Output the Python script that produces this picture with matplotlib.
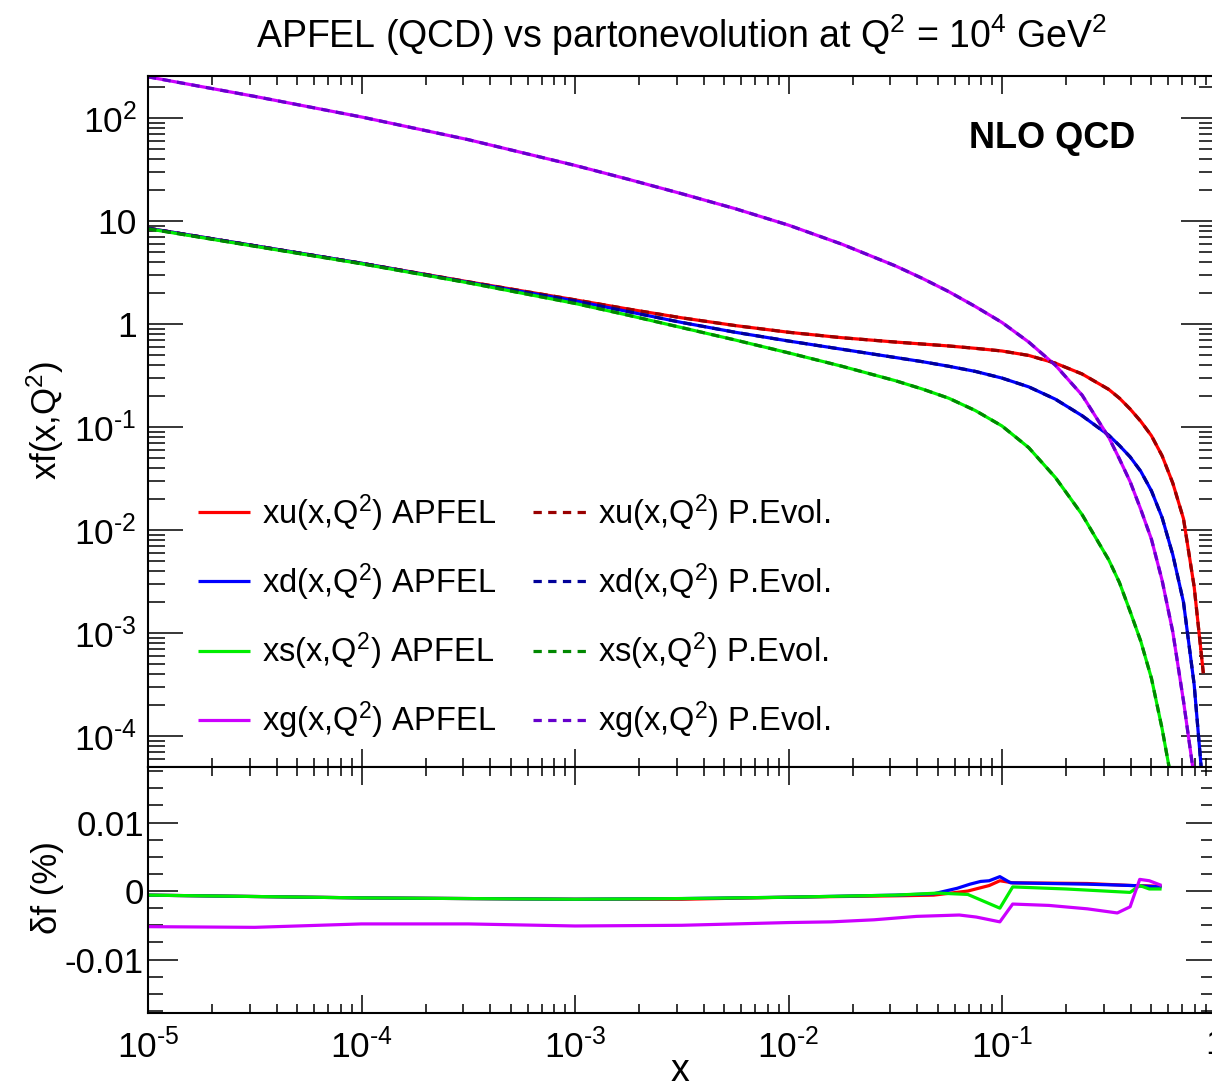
import numpy as np
import matplotlib
matplotlib.use('Agg')
import matplotlib.pyplot as plt
from matplotlib.ticker import FixedLocator, FixedFormatter, LogLocator, MultipleLocator, NullFormatter

plt.rcParams['font.family'] = ['Liberation Sans', 'DejaVu Sans']
plt.rcParams['mathtext.fontset'] = 'custom'
plt.rcParams['mathtext.rm'] = 'Liberation Sans'
plt.rcParams['mathtext.it'] = 'Liberation Sans:italic'
plt.rcParams['mathtext.bf'] = 'Liberation Sans:bold'

# ---------------- data ----------------
# common log10(x) grid for the top panel
log10_x = [-5, -4.5, -4, -3.5, -3, -2.75, -2.5, -2.25, -2, -1.75, -1.5, -1.375, -1.25, -1.125,
           -1, -0.875, -0.75, -0.625, -0.5, -0.45, -0.4, -0.35, -0.3, -0.25, -0.2, -0.15, -0.1, -0.057]
# log10 of xf(x,Q^2)
log10_xu = [0.93, 0.76, 0.59, 0.41, 0.235, 0.145, 0.06, -0.015, -0.08, -0.133, -0.175, -0.194, -0.213, -0.236,
            -0.262, -0.305, -0.38, -0.485, -0.635, -0.72, -0.825, -0.945, -1.085, -1.28, -1.545, -1.89, -2.55, -3.39]
log10_xd = [0.93, 0.76, 0.59, 0.405, 0.225, 0.12, 0.015, -0.08, -0.165, -0.245, -0.325, -0.365, -0.41, -0.46,
            -0.525, -0.61, -0.73, -0.89, -1.08, -1.18, -1.29, -1.43, -1.62, -1.88, -2.24, -2.70, -3.50, -4.55]
log10_xs = [0.925, 0.755, 0.585, 0.40, 0.20, 0.085, -0.035, -0.155, -0.28, -0.41, -0.55, -0.63, -0.72, -0.84,
            -0.99, -1.20, -1.49, -1.85, -2.29, -2.51, -2.79, -3.08, -3.44, -3.93, -4.50, -5.2, -6.0, -6.8]
log10_xg = [2.40, 2.21, 2.01, 1.79, 1.54, 1.405, 1.265, 1.12, 0.96, 0.775, 0.565, 0.445, 0.315, 0.17,
            0.015, -0.175, -0.40, -0.69, -1.10, -1.31, -1.53, -1.80, -2.09, -2.49, -2.99, -3.66, -4.40, -5.2]

# relative differences delta f (%)
dx_u = [-5, -4, -3, -2.5, -2, -1.5, -1.32, -1.16, -1.06, -1.01, -0.95, -0.6, -0.39, -0.26]
df_u = [-0.0006, -0.0010, -0.0012, -0.0012, -0.0009, -0.0007, -0.0006, 0.0000, 0.0008, 0.0015, 0.0012, 0.0011, 0.0008, 0.0007]
dx_d = [-5, -4, -3, -2.5, -2, -1.5, -1.32, -1.21, -1.15, -1.10, -1.06, -1.01, -0.96, -0.6, -0.39, -0.26]
df_d = [-0.0006, -0.0010, -0.0012, -0.0011, -0.0009, -0.0006, -0.0004, 0.0004, 0.0010, 0.0014, 0.0015, 0.0021, 0.0012, 0.0010, 0.0008, 0.0006]
dx_s = [-5, -4, -3, -2.5, -2, -1.5, -1.3, -1.16, -1.01, -0.95, -0.7, -0.4, -0.355, -0.31, -0.26]
df_s = [-0.0006, -0.0010, -0.0012, -0.0011, -0.0009, -0.0006, -0.0003, -0.0005, -0.0025, 0.0006, 0.0003, -0.0002, 0.0008, 0.0003, 0.0003]
dx_g = [-5, -4.5, -4, -3.5, -3, -2.5, -2, -1.8, -1.6, -1.4, -1.2, -1.12, -1.01, -0.95, -0.78, -0.6, -0.46, -0.40, -0.355, -0.31, -0.26]
df_g = [-0.0052, -0.0053, -0.0048, -0.0048, -0.0051, -0.0050, -0.0046, -0.0045, -0.0042, -0.0037, -0.0035, -0.0038, -0.0045, -0.0019, -0.0021, -0.0026, -0.0032, -0.0023, 0.0017, 0.0015, 0.0009]

labels_apfel = [r"xu(x,Q$^2$) APFEL", r"xd(x,Q$^2$) APFEL", r"xs(x,Q$^2$) APFEL", r"xg(x,Q$^2$) APFEL"]
labels_pevol = [r"xu(x,Q$^2$) P.Evol.", r"xd(x,Q$^2$) P.Evol.", r"xs(x,Q$^2$) P.Evol.", r"xg(x,Q$^2$) P.Evol."]
ytick_vals = [1e-4, 1e-3, 1e-2, 1e-1, 1, 10, 100]
ytick_labels = [r"10$^{\text{-4}}$", r"10$^{\text{-3}}$", r"10$^{\text{-2}}$", r"10$^{\text{-1}}$", "1", "10", r"10$^{2}$"]
xtick_vals = [1e-5, 1e-4, 1e-3, 1e-2, 1e-1, 1]
xtick_labels = [r"10$^{\text{-5}}$", r"10$^{\text{-4}}$", r"10$^{\text{-3}}$", r"10$^{\text{-2}}$", r"10$^{\text{-1}}$", "1"]
dtick_vals = [-0.01, 0, 0.01]
dtick_labels = ["-0.01", "0", "0.01"]

# ---------------- styles ----------------
solid_colors = ['#ff0000', '#0000ff', '#00ee00', '#cc00ff']
dash_colors = ['#990000', '#000099', '#008800', '#6600cc']

W, H = 1212, 1089
fig = plt.figure(figsize=(W / 100, H / 100), dpi=100)
left = 148 / W
width = (1215.5 - 148) / W
ax1 = fig.add_axes([left, (H - 767) / H, width, (767 - 76) / H])
ax2 = fig.add_axes([left, (H - 1013) / H, width, (1013 - 767) / H], sharex=ax1)

xs = 10 ** np.array(log10_x)
tops = [log10_xu, log10_xd, log10_xs, log10_xg]
handles_a, handles_p = [], []
for vals, c, lab in zip(tops, solid_colors, labels_apfel):
    h, = ax1.plot(xs, 10 ** np.array(vals), color=c, lw=2.3, label=lab, solid_capstyle='butt')
    handles_a.append(h)
for vals, c, lab in zip(tops, dash_colors, labels_pevol):
    h, = ax1.plot(xs, 10 ** np.array(vals), color=c, lw=2.3, ls=(0, (2.6, 2.0)), label=lab)
    handles_p.append(h)

ax1.set_xscale('log')
ax1.set_yscale('log')
ax1.set_xlim(1e-5, 1)
ax1.set_ylim(10 ** -4.301, 10 ** 2.408)
ax1.yaxis.set_major_locator(FixedLocator(ytick_vals))
ax1.yaxis.set_major_formatter(FixedFormatter(ytick_labels))
ax1.yaxis.set_minor_locator(LogLocator(base=10, subs=np.arange(2, 10), numticks=50))
ax1.yaxis.set_minor_formatter(NullFormatter())

for dx, df, c in zip([dx_u, dx_d, dx_s, dx_g], [df_u, df_d, df_s, df_g], solid_colors):
    ax2.plot(10 ** np.array(dx), df, color=c, lw=2.3)
ax2.set_ylim(-0.0178, 0.0181)
ax2.yaxis.set_major_locator(FixedLocator(dtick_vals))
ax2.yaxis.set_major_formatter(FixedFormatter(dtick_labels))
ax2.yaxis.set_minor_locator(MultipleLocator(0.0025))
ax2.xaxis.set_major_locator(FixedLocator(xtick_vals))
ax2.xaxis.set_major_formatter(FixedFormatter(xtick_labels))
ax2.xaxis.set_minor_locator(LogLocator(base=10, subs=np.arange(2, 10), numticks=50))
ax2.xaxis.set_minor_formatter(NullFormatter())

for ax in (ax1, ax2):
    for s in ax.spines.values():
        s.set_linewidth(1.5)
    ax.tick_params(which='both', direction='in', top=True, right=True, width=1.1, colors='black')
    ax.tick_params(axis='x', which='major', length=13)
    ax.tick_params(axis='x', which='minor', length=6.5)
ax1.tick_params(axis='y', which='major', length=25, labelsize=25.5, pad=8)
ax1.tick_params(axis='y', which='minor', length=12)
ax1.tick_params(axis='x', labelbottom=False)
ax2.tick_params(axis='y', which='major', length=21.5, labelsize=25, pad=3)
ax2.tick_params(axis='y', which='minor', length=10.8)
ax2.tick_params(axis='x', which='major', labelsize=25.5, pad=11)

leg = ax1.legend(handles_a + handles_p, labels_apfel + labels_pevol, ncol=2, frameon=False,
                 loc='upper left', bbox_to_anchor=((198 - 148) / (1215.5 - 148), (767 - 492) / (767 - 76)),
                 fontsize=23.5, handlelength=1.6, handletextpad=0.37, columnspacing=1.13,
                 labelspacing=0.85, borderaxespad=0, borderpad=0)

fig.text(1135 / W, 1 - 138 / H, "NLO QCD", fontsize=26, fontweight='bold', ha='right', va='center')
fig.text(682 / W, 1 - 35 / H, r"APFEL (QCD) vs partonevolution at Q$^2$ = 10$^4$ GeV$^2$",
         fontsize=27, ha='center', va='center')
fig.text(45 / W, 1 - 421 / H, r"xf(x,Q$^2$)", fontsize=25, rotation=90, ha='center', va='center')
fig.text(47 / W, 1 - 888 / H, "δf (%)", fontsize=25, rotation=90, ha='center', va='center')
fig.text(680 / W, 0.0, "x", fontsize=27, ha='center', va='bottom')

fig.savefig('out.png', dpi=100)
